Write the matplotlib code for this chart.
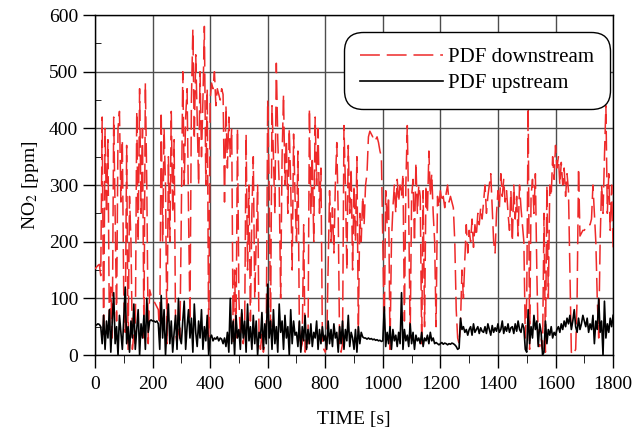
import numpy as np
import matplotlib
matplotlib.use("Agg")
import matplotlib.pyplot as plt

plt.rcParams['font.family'] = ['Liberation Serif', 'DejaVu Serif']
plt.rcParams['mathtext.fontset'] = 'stix'

# time axis, 5 s sampling
time_s = np.arange(0, 1805, 5)

# NO2 downstream of the PDF [ppm], one row = 50 s
no2_down = [
    152, 155, 158, 160, 140, 420, 30, 400, 250, 380,      # 0
    40, 120, 30, 420, 250, 60, 400, 430, 270, 380,        # 50
    100, 40, 370, 10, 280, 200, 10, 40, 20, 430,          # 100
    200, 470, 250, 400, 30, 480, 300, 20, 115, 105,       # 150
    100, 95, 90, 85, 80, 30, 430, 200, 400, 300,          # 200
    20, 350, 200, 430, 250, 380, 40, 20, 50, 30,          # 250
    250, 500, 300, 420, 470, 250, 60, 450, 575, 380,      # 300
    530, 420, 300, 500, 350, 450, 580, 300, 470, 10,      # 350
    450, 480, 470, 500, 440, 470, 460, 450, 470, 460,     # 400
    270, 440, 330, 420, 350, 400, 20, 150, 30, 400,       # 450
    100, 30, 80, 20, 50, 390, 150, 300, 60, 250,          # 500
    350, 100, 200, 300, 30, 10, 40, 5, 20, 30,            # 550
    450, 300, 50, 440, 350, 250, 515, 380, 300, 100,      # 600
    350, 460, 300, 380, 250, 400, 300, 150, 390, 280,     # 650
    200, 360, 50, 10, 20, 230, 5, 15, 10, 435,            # 700
    250, 350, 200, 420, 300, 400, 250, 330, 30, 10,       # 750
    5, 20, 150, 290, 200, 260, 180, 300, 375, 250,        # 800
    10, 5, 20, 405, 300, 150, 370, 250, 330, 150,         # 850
    300, 200, 350, 40, 250, 200, 280, 230, 300, 320,      # 900
    385, 395, 390, 385, 388, 380, 385, 375, 360, 350,     # 950
    200, 45, 290, 230, 280, 10, 200, 260, 300, 250,       # 1000
    310, 270, 300, 280, 320, 60, 300, 405, 250, 30,       # 1050
    280, 310, 200, 340, 250, 300, 280, 20, 290, 50,       # 1100
    300, 250, 360, 280, 320, 250, 200, 50, 280, 260,      # 1150
    290, 270, 280, 260, 285, 300, 270, 280, 270, 260,     # 1200
    200, 80, 30, 20, 60, 150, 100, 170, 230, 180,         # 1250
    220, 200, 240, 190, 230, 210, 250, 230, 260, 240,     # 1300
    270, 300, 250, 280, 300, 320, 260, 200, 180, 250,     # 1350
    290, 260, 320, 280, 310, 270, 290, 250, 220, 290,     # 1400
    200, 300, 240, 280, 210, 300, 260, 230, 200, 30,      # 1450
    100, 440, 10, 280, 310, 250, 320, 150, 20, 15,        # 1500
    30, 10, 250, 5, 300, 100, 300, 280, 350, 310,         # 1550
    370, 330, 350, 300, 340, 300, 330, 280, 320, 290,     # 1600
    150, 5, 0, 5, 10, 100, 330, 210, 215, 220,            # 1650
    220, 225, 225, 230, 230, 240, 300, 250, 200, 100,     # 1700
    30, 200, 300, 250, 350, 440, 250, 320, 220, 300,      # 1750
    190,                                                  # 1800
]

# NO2 upstream of the PDF [ppm]
no2_up = [
    52, 53, 55, 54, 50, 20, 70, 10, 60, 30,
    80, 5, 60, 110, 20, 50, 0, 70, 40, 10,
    65, 120, 20, 50, 5, 60, 30, 90, 10, 45,
    80, 0, 55, 30, 70, 10, 100, 40, 60, 62,
    60, 60, 58, 60, 55, 10, 105, 30, 80, 0,
    50, 90, 20, 60, 5, 40, 70, 10, 100, 30,
    20, 60, 95, 10, 50, 80, 30, 65, 5, 90,
    40, 15, 60, 30, 80, 10, 50, 25, 70, 0,
    30, 35, 25, 30, 28, 32, 25, 30, 28, 20,
    30, 15, 40, 5, 100, 20, 60, 0, 70, 30,
    45, 10, 80, 30, 60, 5, 90, 25, 50, 10,
    70, 20, 60, 0, 40, 30, 75, 10, 55, 20,
    125, 30, 60, 10, 80, 20, 50, 5, 90, 40,
    60, 10, 70, 30, 50, 0, 80, 20, 60, 35,
    40, 15, 60, 5, 50, 25, 70, 10, 45, 20,
    55, 15, 40, 30, 60, 10, 45, 20, 50, 25,
    35, 10, 60, 20, 45, 15, 55, 30, 40, 5,
    50, 20, 60, 10, 45, 25, 70, 15, 40, 30,
    10, 45, 5, 50, 20, 40, 32, 30, 30, 28,
    30, 28, 29, 27, 28, 26, 27, 25, 26, 24,
    25, 85, 15, 40, 20, 50, 10, 45, 25, 35,
    15, 40, 20, 110, 10, 45, 25, 35, 15, 55,
    20, 40, 10, 35, 25, 30, 20, 40, 15, 30,
    25, 35, 20, 40, 25, 30, 20, 22, 20, 18,
    20, 22, 19, 21, 20, 18, 20, 19, 21, 20,
    18, 15, 10, 12, 65, 45, 50, 40, 45, 35,
    45, 50, 35, 55, 40, 45, 50, 38, 48, 42,
    40, 50, 38, 55, 45, 35, 52, 40, 48, 42,
    55, 40, 45, 60, 38, 50, 42, 55, 40, 48,
    50, 38, 55, 42, 60, 45, 40, 55, 48, 10,
    5, 80, 20, 50, 30, 70, 45, 60, 15, 55,
    40, 0, 5, 60, 20, 45, 35, 50, 30, 40,
    35, 45, 50, 40, 55, 45, 60, 50, 65, 55,
    70, 45, 60, 80, 50, 40, 65, 45, 55, 70,
    60, 50, 65, 40, 55, 45, 70, 20, 60, 45,
    100, 40, 60, 0, 95, 30, 55, 40, 65, 50,
    70,
]

fig = plt.figure(figsize=(6.44, 4.30), dpi=100)
ax = fig.add_axes([0.1475, 0.1744, 0.8045, 0.7906])

ax.plot(time_s, no2_down, color='#ee2a2a', lw=1.1, dashes=(13, 4.5),
        label='PDF downstream', zorder=3)
ax.plot(time_s, no2_up, color='black', lw=1.2, label='PDF upstream', zorder=4)

ax.set_xlim(0, 1800)
ax.set_ylim(0, 600)
ax.set_xticks(np.arange(0, 1801, 200))
ax.set_xticks(np.arange(100, 1800, 200), minor=True)
ax.set_yticks(np.arange(0, 601, 100))
ax.set_yticks(np.arange(50, 600, 100), minor=True)
ax.tick_params(axis='both', which='major', labelsize=14, direction='out',
               length=9, width=1, pad=3)
ax.tick_params(axis='x', which='major', pad=6)
ax.tick_params(axis='x', which='minor', direction='out', length=6)
ax.tick_params(axis='y', which='minor', direction='in', length=4)
ax.grid(True, which='major', color='0.3', lw=1.0, zorder=1)

for s in ax.spines.values():
    s.set_linewidth(1.0)

ax.set_xlabel('TIME [s]', fontsize=14, labelpad=13)
ax.set_ylabel('NO$_2$ [ppm]', fontsize=14, labelpad=6)

leg = ax.legend(loc='upper right', bbox_to_anchor=(0.994, 0.95), fontsize=15,
                handlelength=4.0, handletextpad=0.25, labelspacing=0.3,
                borderpad=0.75, borderaxespad=0, fancybox=True, framealpha=1,
                edgecolor='black')
leg.get_frame().set_linewidth(1.0)
leg.get_frame().set_boxstyle('round', pad=0.0, rounding_size=0.9)

fig.savefig('out.png', dpi=100)
